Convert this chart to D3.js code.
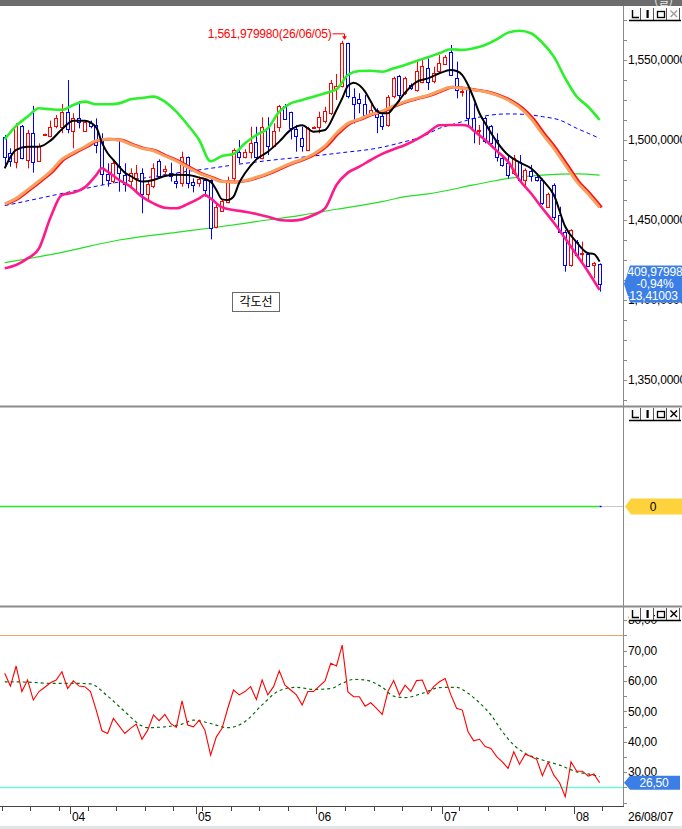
<!DOCTYPE html>
<html lang="ko">
<head>
<meta charset="utf-8">
<title>chart</title>
<script src="https://cdn.jsdelivr.net/npm/d3@7/dist/d3.min.js"></script>
<style>
  html, body { margin: 0; padding: 0; background: #fff; overflow: hidden; }
  svg { display: block; }
  text { font-family: "Liberation Sans", Arial, sans-serif; font-size: 12px; letter-spacing: -0.2px; }
  .kr { font-family: "Noto Sans CJK KR", sans-serif; letter-spacing: 0; }
</style>
</head>
<body>
<svg id="chart" width="682" height="829"></svg>
<script>
// trading days on screen
const firstDay = new Date(2026, 2, 16);
const lastDay = new Date(2026, 7, 7);

const opens = [1502.1,1491.7,1486.5,1508.8,1487.5,1504.2,1486.9,1503.0,1502.5,1508.3,
  1508.3,1517.3,1505.2,1514.0,1505.8,1510.8,1509.4,1501.0,1478.8,1474.0,
  1483.8,1478.1,1474.0,1476.0,1479.2,1466.0,1470.8,1486.9,1480.2,1479.2,
  1474.4,1472.9,1489.2,1474.0,1473.3,1475.0,1475.0,1445.2,1455.8,1461.5,
  1476.0,1492.7,1489.6,1492.1,1498.5,1488.5,1507.7,1496.5,1508.3,1521.3,
  1517.3,1506.7,1501.5,1494.2,1507.5,1507.7,1512.1,1516.7,1531.9,1533.3,
  1560.4,1527.1,1525.4,1522.3,1517.1,1518.8,1515.0,1509.4,1527.1,1540.0,
  1529.2,1534.4,1531.3,1536.5,1545.2,1536.5,1542.7,1547.5,1555.2,1538.5,
  1530.6,1531.7,1513.5,1506.0,1513.5,1508.8,1500.0,1488.5,1485.4,1479.2,
  1486.5,1475.0,1480.8,1477.1,1475.0,1458.3,1471.9,1453.1,1442.7,1421.9,
  1436.5,1428.9,1428.8,1421.9,1422.3];
const highs = [1503.1,1494.8,1510.4,1509.4,1506.3,1521.3,1497.9,1504.0,1512.1,1515.6,
  1522.5,1537.5,1516.7,1524.4,1512.5,1512.1,1513.5,1504.2,1485.4,1487.9,
  1500.0,1485.4,1482.3,1484.4,1482.3,1475.0,1485.4,1487.9,1484.0,1485.8,
  1479.2,1492.7,1489.6,1476.0,1477.1,1476.0,1476.0,1460.4,1462.5,1477.1,
  1494.8,1500.0,1494.2,1508.3,1508.3,1514.2,1514.2,1510.4,1521.9,1522.5,
  1517.7,1509.4,1508.3,1508.3,1508.5,1517.7,1520.8,1537.5,1541.3,1561.98,
  1560.8,1532.3,1529.2,1528.1,1524.0,1519.8,1516.7,1528.1,1539.6,1540.6,
  1539.6,1535.4,1549.0,1550.0,1551.0,1545.8,1553.1,1553.1,1559.4,1549.0,
  1532.3,1533.3,1522.9,1509.4,1514.6,1509.4,1504.2,1490.6,1490.6,1490.6,
  1490.6,1482.3,1484.4,1479.2,1476.0,1467.1,1472.9,1458.3,1443.8,1444.2,
  1437.5,1436.5,1429.6,1423.8,1422.9];
const lows = [1483.3,1483.3,1482.3,1487.9,1482.3,1479.6,1486.5,1502.5,1501.7,1507.3,
  1504.2,1504.2,1494.8,1507.3,1505.2,1507.3,1491.7,1471.9,1470.8,1472.9,
  1467.7,1467.7,1470.8,1466.7,1454.2,1462.5,1469.8,1476.0,1477.1,1474.0,
  1469.8,1470.8,1469.8,1467.3,1470.8,1464.6,1437.9,1444.8,1455.2,1460.4,
  1474.0,1485.4,1488.5,1488.5,1487.5,1487.9,1490.6,1495.8,1505.2,1512.5,
  1500.4,1492.7,1492.7,1493.3,1507.0,1504.2,1510.4,1515.6,1525.0,1532.9,
  1526.0,1510.4,1516.7,1514.6,1515.6,1504.2,1506.3,1508.3,1526.0,1524.0,
  1528.1,1531.3,1530.2,1535.4,1531.3,1535.4,1541.7,1546.9,1540.6,1526.0,
  1527.1,1508.3,1497.9,1496.9,1497.9,1495.8,1486.5,1483.3,1476.0,1478.1,
  1474.0,1470.8,1474.0,1474.0,1459.4,1457.9,1450.0,1441.7,1417.7,1420.8,
  1427.1,1422.9,1420.8,1413.5,1405.2];
const closes = [1489.6,1486.5,1509.0,1488.5,1504.2,1486.0,1496.5,1503.5,1508.3,1513.5,
  1517.7,1506.9,1513.5,1511.5,1511.5,1508.8,1496.9,1478.8,1475.0,1485.4,
  1479.2,1472.3,1479.2,1479.2,1466.0,1472.3,1482.3,1477.5,1481.7,1477.1,
  1472.9,1489.2,1472.9,1471.9,1475.6,1468.8,1445.2,1457.9,1461.9,1475.0,
  1493.8,1489.6,1492.7,1497.9,1489.2,1507.9,1496.5,1505.6,1521.3,1513.1,
  1507.3,1502.1,1496.5,1507.7,1507.9,1514.2,1518.1,1535.4,1533.8,1560.4,
  1527.1,1522.9,1522.9,1515.6,1518.8,1514.2,1508.8,1527.1,1538.5,1528.1,
  1538.5,1532.3,1543.1,1546.3,1536.5,1541.7,1547.9,1551.7,1540.6,1531.3,
  1530.9,1513.5,1506.3,1506.5,1499.0,1498.3,1489.6,1484.4,1478.1,1488.5,
  1475.0,1481.3,1477.7,1475.0,1460.4,1466.3,1452.1,1442.7,1421.9,1443.8,
  1428.1,1429.2,1421.3,1423.4,1409.98];

// overlay lines, [day index, value]
const bbUpper = [[0,1500.4],[2,1508.8],[4,1514.6],[6,1519.8],[8,1519.2],[10,1518.8],[12,1521.9],[14,1524.0],
  [16,1522.3],[18,1522.3],[20,1522.9],[22,1525.4],[24,1526.3],[26,1527.1],[28,1524.0],[30,1517.7],[32,1509.4],
  [34,1500.0],[36,1486.7],[38,1490.0],[40,1491.3],[42,1497.9],[44,1503.1],[46,1507.3],[48,1517.7],[50,1522.9],
  [52,1525.0],[54,1527.1],[56,1529.2],[58,1531.7],[60,1540.6],[62,1543.1],[64,1543.3],[66,1542.7],[68,1544.8],
  [70,1546.9],[72,1549.4],[74,1551.7],[76,1554.2],[78,1556.7],[80,1556.3],[82,1557.3],[84,1559.4],[86,1562.9],
  [88,1567.1],[90,1568.3],[92,1566.7],[94,1560.8],[96,1552.1],[98,1538.5],[100,1527.1],[102,1520.8],[104,1512.5]];
const bbLower = [[0,1419.8],[2,1421.9],[4,1426.0],[6,1432.3],[8,1451.5],[10,1465.6],[12,1467.1],[14,1470.4],
  [16,1478.1],[17,1482.3],[18,1480.2],[20,1475.0],[22,1470.8],[24,1464.6],[26,1460.4],[28,1457.7],[30,1457.3],
  [32,1460.0],[34,1463.5],[35,1465.6],[36,1463.5],[38,1457.9],[40,1456.3],[42,1455.2],[44,1453.8],[46,1452.1],
  [48,1450.0],[50,1449.6],[52,1450.4],[54,1453.1],[56,1457.3],[58,1471.9],[60,1479.6],[62,1483.3],[64,1487.5],
  [66,1491.3],[68,1494.2],[70,1496.9],[72,1500.4],[74,1504.6],[76,1509.2],[78,1509.4],[80,1509.4],[81,1508.8],
  [82,1505.8],[84,1500.0],[86,1493.3],[88,1486.5],[90,1475.0],[92,1466.7],[94,1457.3],[96,1448.3],[98,1438.5],
  [100,1428.1],[102,1417.7],[104,1406.3]];
const bbMid = [[0,1460.0],[2,1463.5],[4,1468.8],[6,1474.4],[8,1480.2],[10,1487.9],[12,1492.1],[14,1495.8],
  [16,1499.6],[18,1500.4],[20,1500.0],[22,1497.3],[24,1494.8],[26,1493.3],[28,1490.0],[30,1486.9],[32,1482.9],
  [34,1479.2],[36,1476.5],[38,1474.0],[40,1473.8],[42,1474.6],[44,1476.7],[46,1479.2],[48,1482.3],[50,1485.4],
  [52,1487.9],[54,1491.3],[56,1496.3],[58,1504.2],[60,1510.4],[62,1513.1],[64,1516.0],[66,1518.1],[68,1521.3],
  [70,1524.0],[72,1526.0],[74,1527.9],[76,1530.6],[78,1532.9],[80,1532.3],[82,1531.3],[84,1530.2],[86,1528.1],
  [88,1525.0],[90,1520.4],[92,1513.5],[94,1503.8],[96,1494.8],[98,1484.4],[100,1474.0],[102,1466.3],[104,1457.9]];
const ma5 = [[0,1482.3],[2,1493.8],[4,1495.8],[6,1495.8],[8,1499.6],[10,1506.7],[12,1512.1],[14,1512.1],
  [16,1507.9],[17,1498.3],[18,1491.7],[19,1487.5],[20,1483.3],[21,1479.6],[22,1477.5],[24,1474.0],[26,1475.0],
  [28,1477.5],[30,1478.3],[32,1478.1],[34,1476.5],[36,1474.0],[37,1468.8],[38,1462.9],[39,1462.5],[40,1464.6],
  [41,1473.3],[42,1479.2],[44,1487.9],[46,1492.7],[48,1499.0],[50,1506.3],[52,1509.2],[54,1505.2],[56,1506.3],
  [58,1518.8],[59,1526.0],[60,1533.8],[61,1535.8],[62,1534.2],[63,1530.2],[64,1524.0],[65,1518.3],[66,1516.7],
  [67,1516.7],[68,1520.4],[70,1529.6],[72,1536.3],[74,1538.5],[76,1541.7],[78,1543.8],[79,1543.1],[80,1540.6],
  [81,1534.4],[82,1526.0],[83,1516.7],[84,1510.4],[86,1499.0],[88,1490.6],[90,1486.0],[92,1482.3],[94,1475.0],
  [96,1465.6],[98,1445.8],[100,1436.0],[102,1429.2],[103,1428.8],[104,1424.0]];
const ma60 = [[0,1459.0],[6,1463.5],[12,1468.1],[18,1472.5],[24,1476.0],[30,1479.4],[36,1482.3],[42,1485.4],
  [48,1487.9],[54,1490.0],[59,1492.1],[65,1494.8],[70,1499.0],[73,1502.1],[76,1507.3],[79,1510.4],[82,1513.5],
  [85,1515.6],[88,1516.3],[91,1516.0],[94,1514.6],[97,1512.5],[100,1507.3],[102,1504.2],[104,1501.0]];
const ma120 = [[0,1423.3],[10,1429.8],[20,1437.5],[30,1442.3],[36,1445.0],[44,1449.0],[52,1453.1],[58,1456.7],
  [66,1461.5],[70,1464.6],[74,1466.3],[82,1471.9],[88,1476.0],[94,1478.1],[100,1478.8],[104,1478.1]];

// lower panel
const rsi = [62.5,58.3,64.9,56.5,60.3,53.7,56.5,57.9,59.4,60.3,
  63.0,57.5,60.0,58.3,58.1,56.5,50.4,43.6,42.7,47.7,
  45.2,42.7,44.4,45.8,40.8,43.8,48.8,46.9,49.0,46.0,
  44.7,53.4,45.5,44.9,47.1,43.8,35.6,41.6,44.4,51.0,
  57.0,55.4,56.5,58.1,53.9,60.3,55.4,58.1,63.3,58.6,
  57.0,55.4,52.1,56.5,56.5,58.3,60.0,65.8,64.9,71.8,
  56.4,54.8,54.8,51.7,52.8,51.0,49.0,56.5,60.1,55.4,
  58.6,56.5,60.1,60.3,55.7,58.1,59.7,60.8,55.4,51.0,
  50.4,43.3,40.3,40.8,38.4,37.8,35.1,33.4,31.2,36.7,
  32.6,35.9,35.1,34.2,28.8,33.2,29.0,26.5,21.9,33.4,
  30.3,30.3,28.7,29.4,26.5];
const rsiSignal = [[0,59.7],[4,59.6],[8,59.2],[12,59.2],[15,59.0],[18,55.0],[21,49.9],[24,45.2],[25,44.6],
  [28,44.9],[31,45.8],[33,47.1],[36,46.0],[39,44.6],[42,46.6],[45,52.1],[48,56.8],[51,57.9],[54,57.2],
  [57,57.5],[59,59.2],[61,60.5],[63,60.3],[66,57.9],[68,55.0],[70,54.5],[73,55.9],[76,57.8],[79,57.9],
  [81,55.9],[83,52.8],[85,48.8],[87,43.3],[89,38.9],[91,36.2],[94,34.0],[97,32.3],[100,30.1],[102,29.4],[104,28.5]];
const rsiLevels = [75, 25];
const midLevels = [0];

const priceTicks = [1350, 1400, 1450, 1500, 1550];
const rsiTicks = [30, 40, 50, 60, 70, 80];
const highLabel = '1,561,979980(26/06/05)';
const lastLabel = ['1,409,97998', '-0,94%', '-13,41003'];

const dates = d3.timeDay.range(firstDay, d3.timeDay.offset(lastDay, 1))
  .filter(d => d.getDay() !== 0 && d.getDay() !== 6);
const N = dates.length;

const svg = d3.select('#chart');
const plotW = 623;

const x = d3.scaleLinear().domain([0, N - 1]).range([4.7, 599.6]);
const step = x(1) - x(0);
const yP = d3.scaleLinear().domain([1333.75, 1583.75]).range([406, 6]);
const yM = d3.scaleLinear().domain([-1, 1]).range([606, 407]);
const yR = d3.scaleLinear().domain([18.85, 84.64]).range([806, 606]);

svg.append('rect').attr('width', 682).attr('height', 829).attr('fill', '#fff');

const defs = svg.append('defs');
[['clipMain', 7, 399], ['clipMid', 407, 199], ['clipRsi', 607, 199]].forEach(([id, y0, h]) => {
  defs.append('clipPath').attr('id', id).append('rect')
    .attr('x', 0).attr('y', y0).attr('width', plotW).attr('height', h);
});

// ---------- main price panel
const gMain = svg.append('g').attr('clip-path', 'url(#clipMain)');
const lineP = d3.line().x(d => x(d[0])).y(d => yP(d[1])).curve(d3.curveMonotoneX);

gMain.append('path').attr('d', lineP(ma120)).attr('fill', 'none')
  .attr('stroke', '#22e022').attr('stroke-width', 1.2);
gMain.append('path').attr('d', lineP(ma60)).attr('fill', 'none')
  .attr('stroke', '#0000ff').attr('stroke-width', 1).attr('stroke-dasharray', '4,3');

const col = i => closes[i] >= opens[i] ? '#ff0000' : '#0000ff';
const cx = i => Math.round(x(i)) + 0.5;
const candle = gMain.selectAll('g.candle').data(d3.range(N)).join('g').attr('class', 'candle');
candle.append('line')
  .attr('x1', cx).attr('x2', cx)
  .attr('y1', i => yP(highs[i])).attr('y2', i => yP(lows[i]))
  .attr('stroke', col).attr('stroke-width', 1);
candle.append('rect')
  .attr('x', i => cx(i) - 2)
  .attr('width', 3)
  .attr('y', i => Math.round(yP(Math.max(opens[i], closes[i]))) + 0.5)
  .attr('height', i => Math.max(1, Math.round(yP(Math.min(opens[i], closes[i])) - yP(Math.max(opens[i], closes[i])))))
  .attr('fill', '#fff').attr('stroke', col).attr('stroke-width', 1);

gMain.append('path').attr('d', lineP(bbLower)).attr('fill', 'none')
  .attr('stroke', '#ff1a8c').attr('stroke-width', 2.6);
gMain.append('path').attr('d', lineP(bbUpper)).attr('fill', 'none')
  .attr('stroke', '#2cf02c').attr('stroke-width', 2.6);
gMain.append('path').attr('d', lineP(bbMid)).attr('fill', 'none')
  .attr('transform', 'translate(2,0)')
  .attr('stroke', '#ff1010').attr('stroke-width', 3);
gMain.append('path').attr('d', lineP(bbMid)).attr('fill', 'none')
  .attr('stroke', '#f7a062').attr('stroke-width', 3);
gMain.append('path').attr('d', lineP(ma5)).attr('fill', 'none')
  .attr('stroke', '#000').attr('stroke-width', 2);

// highest price marker
const iMax = d3.maxIndex(highs);
const hx = cx(iMax) + 2, hy = yP(highs[iMax]) - 7.5;
svg.append('text').attr('x', hx - 13).attr('y', hy).attr('dy', '0.35em')
  .attr('text-anchor', 'end').attr('fill', '#ff0000').text(highLabel);
svg.append('path')
  .attr('d', `M${hx - 12},${hy + 0.5}H${hx}V${hy + 5}`)
  .attr('fill', 'none').attr('stroke', '#ff0000').attr('stroke-width', 1);
svg.append('path')
  .attr('d', `M${hx - 2.5},${hy + 3}L${hx + 2.5},${hy + 3}L${hx},${hy + 6.5}Z`)
  .attr('fill', '#ff0000');

// angle line tool label
const tag = svg.append('g').attr('transform', 'translate(232,292)');
tag.append('rect').attr('x', 0.5).attr('y', 0.5).attr('width', 47).attr('height', 19)
  .attr('fill', '#fff').attr('stroke', '#6a6a6a');
tag.append('text').attr('class', 'kr').attr('x', 24).attr('y', 10).attr('dy', '0.36em')
  .attr('text-anchor', 'middle').text('각도선');

// ---------- middle panel
const gMid = svg.append('g').attr('clip-path', 'url(#clipMid)');
midLevels.forEach(v => {
  gMid.append('line').attr('x1', 0).attr('x2', x(N - 1)).attr('y1', yM(v)).attr('y2', yM(v))
    .attr('stroke', '#22ee22').attr('stroke-width', 1.5);
  gMid.append('line').attr('x1', x(N - 1) + 2).attr('x2', plotW).attr('y1', yM(v)).attr('y2', yM(v))
    .attr('stroke', '#c8c8c8').attr('stroke-width', 1);
  gMid.append('rect').attr('x', x(N - 1)).attr('y', yM(v) - 0.75).attr('width', 2).attr('height', 1.5)
    .attr('fill', '#0000ff');
});

// ---------- RSI panel
const gRsi = svg.append('g').attr('clip-path', 'url(#clipRsi)');
gRsi.selectAll('line.lvl').data(rsiLevels).join('line').attr('class', 'lvl')
  .attr('x1', 0).attr('x2', plotW)
  .attr('y1', d => Math.round(yR(d)) + 0.5).attr('y2', d => Math.round(yR(d)) + 0.5)
  .attr('stroke', d => d > 50 ? '#f4a66a' : '#6ff5dc').attr('stroke-width', d => d > 50 ? 1 : 1.5);
gRsi.append('path')
  .attr('d', d3.line().x(d => x(d[0])).y(d => yR(d[1])).curve(d3.curveMonotoneX)(rsiSignal))
  .attr('fill', 'none').attr('stroke', '#0a6a0a').attr('stroke-width', 1.2).attr('stroke-dasharray', '3,3');
gRsi.append('path')
  .attr('d', d3.line().x((d, i) => x(i)).y(d => yR(d))(rsi))
  .attr('fill', 'none').attr('stroke', '#ff0000').attr('stroke-width', 1.1);

// ---------- frames
svg.append('rect').attr('x', 0).attr('y', 0).attr('width', 682).attr('height', 6).attr('fill', '#6c6c6c');
svg.append('text').attr('class', 'kr').attr('x', 654).attr('y', 4.5).attr('fill', '#e6e6e6').text('(일)');
[406.5, 606.5].forEach(y => {
  svg.append('line').attr('x1', 0).attr('x2', 682).attr('y1', y).attr('y2', y)
    .attr('stroke', '#8a8a8a').attr('stroke-width', 2);
});
svg.append('line').attr('x1', plotW + 0.5).attr('x2', plotW + 0.5).attr('y1', 6).attr('y2', 806)
  .attr('stroke', '#8a8a8a').attr('stroke-width', 1);

// price axis
const priceFmt = v => d3.format(',')(v) + ',0000';
svg.selectAll('line.pt').data(d3.range(1337.5, 1583.75, 12.5)).join('line').attr('class', 'pt')
  .attr('x1', plotW + 1).attr('x2', plotW + 4)
  .attr('y1', d => Math.round(yP(d)) + 0.5).attr('y2', d => Math.round(yP(d)) + 0.5)
  .attr('stroke', '#8a8a8a');
svg.selectAll('text.pl').data(priceTicks).join('text').attr('class', 'pl')
  .attr('x', 628).attr('y', d => yP(d)).attr('dy', '0.36em').attr('fill', '#000')
  .text(priceFmt);

// rsi axis
svg.selectAll('line.rt').data(d3.range(20, 85, 5)).join('line').attr('class', 'rt')
  .attr('x1', plotW + 1).attr('x2', plotW + 4)
  .attr('y1', d => Math.round(yR(d)) + 0.5).attr('y2', d => Math.round(yR(d)) + 0.5)
  .attr('stroke', '#8a8a8a');
svg.selectAll('text.rl').data(rsiTicks).join('text').attr('class', 'rl')
  .attr('x', 628).attr('y', d => yR(d)).attr('dy', '0.36em')
  .text(d => d + ',00');

// value boxes
const boxPts = (tip, yc, hh, right) =>
  [[tip, yc], [tip + 6, yc - hh], [right, yc - hh], [right, yc + hh], [tip + 6, yc + hh]];

const yLast = yP(closes[N - 1]);
const lastPts = boxPts(plotW + 1, yLast, 18.5, 682);
defs.append('clipPath').attr('id', 'clipLast').append('polygon').attr('points', lastPts.join(' '));
svg.append('polygon').attr('points', lastPts.join(' ')).attr('fill', '#3b7fe6');
const gLast = svg.append('g').attr('clip-path', 'url(#clipLast)');
gLast.append('text').attr('x', 618).attr('y', yLast - 12).attr('dy', '0.36em').attr('fill', '#fff').text(lastLabel[0]);
gLast.append('text').attr('x', 655).attr('y', yLast).attr('dy', '0.36em').attr('text-anchor', 'middle')
  .attr('fill', '#fff').text(lastLabel[1]);
gLast.append('text').attr('x', 625.5).attr('y', yLast + 11.5).attr('dy', '0.36em').attr('fill', '#fff').text(lastLabel[2]);

midLevels.forEach(v => {
  svg.append('polygon').attr('points', boxPts(plotW + 2, yM(v), 8, 682).join(' ')).attr('fill', '#fdd23c');
  svg.append('text').attr('x', 653).attr('y', yM(v)).attr('dy', '0.36em').attr('text-anchor', 'middle').text(v);
});

const rLast = rsi[N - 1];
svg.append('polygon').attr('points', boxPts(plotW + 1, yR(rLast), 7, 680).join(' ')).attr('fill', '#3b7fe6');
svg.append('text').attr('x', 654).attr('y', yR(rLast)).attr('dy', '0.36em').attr('text-anchor', 'middle')
  .attr('fill', '#fff').text(d3.format('.2f')(rLast).replace('.', ','));

// panel buttons
function buttons(y0, xColor) {
  const g = svg.append('g').attr('transform', `translate(629,${y0})`);
  [0, 13, 26, 39].forEach((bx, k) => {
    const b = g.append('g').attr('transform', `translate(${bx},0)`);
    b.append('rect').attr('width', 12).attr('height', 12).attr('fill', '#fbfbfb');
    b.append('path').attr('d', 'M11.5,0V12.5').attr('stroke', '#555');
    if (k === 0) b.append('path').attr('d', 'M3.5,2V9.5H10').attr('fill', 'none').attr('stroke', '#000').attr('stroke-width', 1.4);
    if (k === 1) b.append('rect').attr('x', 4.5).attr('y', 2).attr('width', 2.2).attr('height', 8).attr('fill', '#000');
    if (k === 2) b.append('rect').attr('x', 2.5).attr('y', 3.5).attr('width', 7).attr('height', 6)
      .attr('fill', 'none').attr('stroke', '#000').attr('stroke-width', 1.3);
    if (k === 3) b.append('path').attr('d', 'M2.5,2.5L9,9M9,2.5L2.5,9').attr('stroke', xColor).attr('stroke-width', 1.4);
  });
  g.append('line').attr('x1', 0).attr('x2', 52).attr('y1', 12.5).attr('y2', 12.5).attr('stroke', '#000').attr('stroke-width', 1.5);
}
buttons(8, '#a0a0a0');
buttons(408, '#000');
buttons(608, '#000');

// ---------- date axis
svg.append('line').attr('x1', 0).attr('x2', plotW + 1).attr('y1', 806.5).attr('y2', 806.5)
  .attr('stroke', '#444');
const tickX = i => Math.round(x(i) - step / 2) + 0.5;
const mondays = dates.map((d, i) => d.getDay() === 1 ? i : -1).filter(i => i >= 0).concat([N]);
const monthStarts = dates.map((d, i) => i > 0 && d.getMonth() !== dates[i - 1].getMonth() ? i : -1).filter(i => i >= 0);
svg.selectAll('line.wk').data(mondays).join('line').attr('class', 'wk')
  .attr('x1', tickX).attr('x2', tickX).attr('y1', 807).attr('y2', 811).attr('stroke', '#444');
svg.selectAll('line.mo').data(monthStarts).join('line').attr('class', 'mo')
  .attr('x1', tickX).attr('x2', tickX).attr('y1', 807).attr('y2', 814).attr('stroke', '#444');
svg.selectAll('text.mo').data(monthStarts).join('text').attr('class', 'mo')
  .attr('x', i => tickX(i) + 1.5).attr('y', 817).attr('dy', '0.36em')
  .text(i => d3.timeFormat('%m')(dates[i]));
svg.append('text').attr('x', 628).attr('y', 817).attr('dy', '0.36em')
  .text(d3.timeFormat('%y/%m/%d')(dates[N - 1]));
svg.append('rect').attr('x', 0).attr('y', 826).attr('width', 682).attr('height', 3).attr('fill', '#e4e4e4');
</script>
</body>
</html>
